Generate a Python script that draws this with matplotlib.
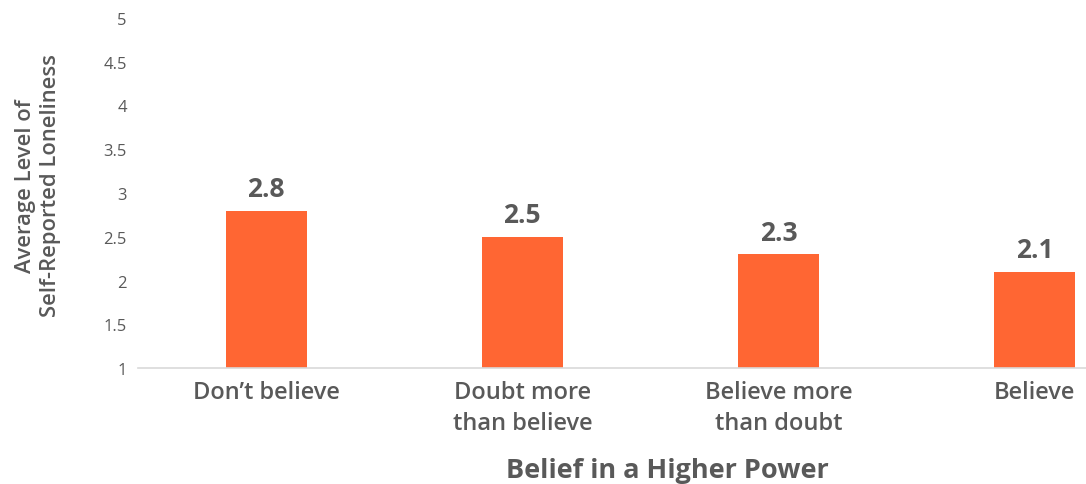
import matplotlib
matplotlib.use('Agg')
import matplotlib.pyplot as plt
import numpy as np

# data
categories = ["Don\u2019t believe", "Doubt more\nthan believe", "Believe more\nthan doubt", "Believe"]
values = [2.8, 2.5, 2.3, 2.1]
value_labels = ["2.8", "2.5", "2.3", "2.1"]
y_ticks = [1, 1.5, 2, 2.5, 3, 3.5, 4, 4.5, 5]
y_tick_labels = ["1", "1.5", "2", "2.5", "3", "3.5", "4", "4.5", "5"]

BAR_COLOR = '#FF6633'
TEXT_COLOR = '#595959'

plt.rcParams['font.family'] = ['Open Sans', 'DejaVu Sans']

fig = plt.figure(figsize=(10.86, 4.85), dpi=100)
ax = fig.add_axes([138 / 1086, 116 / 485, 948 / 1086, 350 / 485])

x = np.arange(len(categories))
ax.bar(x, np.array(values) - 1, bottom=1, width=0.316, color=BAR_COLOR, zorder=2)

# value labels above bars
for xi, v, lab in zip(x, values, value_labels):
    ax.annotate(lab, xy=(xi, v), xytext=(0, 6), textcoords='offset points',
                ha='center', va='bottom', fontsize=19, fontweight='bold', color=TEXT_COLOR)

ax.set_ylim(1, 5)
ax.set_xlim(-0.5, 3.2)
ax.set_yticks(y_ticks)
ax.set_yticklabels(y_tick_labels, fontsize=12, color=TEXT_COLOR)
ax.set_xticks(x)
ax.set_xticklabels(categories, fontsize=17, fontweight='semibold', color=TEXT_COLOR, linespacing=1.42)
ax.tick_params(axis='both', length=0)
ax.tick_params(axis='y', pad=8)
ax.tick_params(axis='x', pad=8.5)

for side in ['top', 'right', 'left']:
    ax.spines[side].set_visible(False)
ax.spines['bottom'].set_color('#D9D9D9')
ax.spines['bottom'].set_linewidth(1.2)

fig.text(667 / 1086, 1 - 478 / 485, 'Belief in a Higher Power', ha='center', va='baseline',
         fontsize=19.5, fontweight='bold', color=TEXT_COLOR)
fig.text(38 / 1086, 1 - 186 / 485, 'Average Level of\nSelf-Reported Loneliness', ha='center', va='center',
         rotation=90, fontsize=15.8, fontweight='semibold', color=TEXT_COLOR, linespacing=1.3)

plt.savefig('out.png', dpi=100)
plt.close()
